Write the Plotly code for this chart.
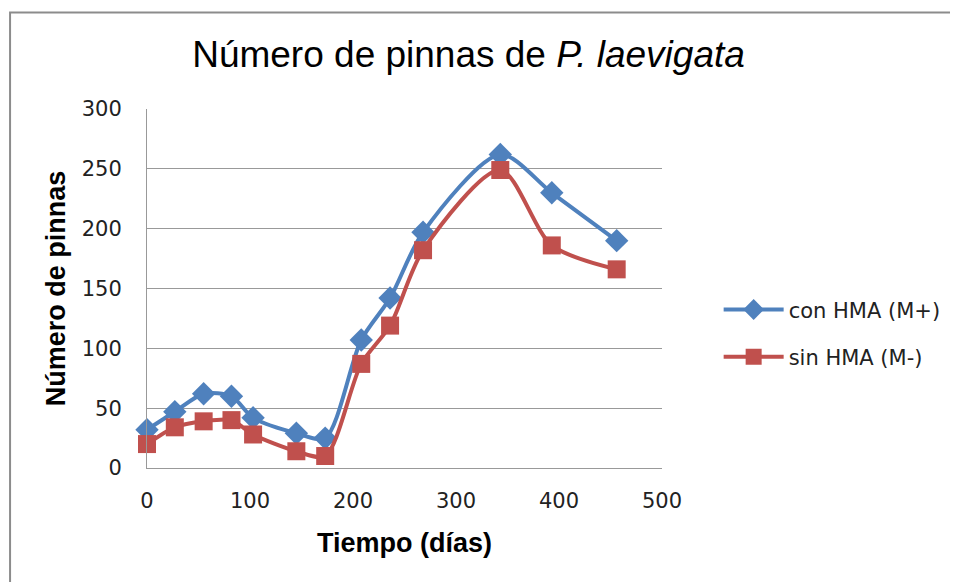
import plotly.graph_objects as go

# days since start
dias = [0, 27, 55, 82, 103, 145, 173, 208, 236, 268, 343, 393, 456]
con_hma = [32, 47, 62, 60, 42, 29, 25, 107, 142, 197, 262, 230, 190]
sin_hma = [20, 34, 39, 40, 28, 14, 10, 87, 119, 182, 249, 186, 166]

x_ticks = [0, 100, 200, 300, 400, 500]
y_ticks = [0, 50, 100, 150, 200, 250, 300]

tick_font = dict(family='DejaVu Sans', size=21, color='#222')

fig = go.Figure()

fig.add_trace(go.Scatter(
    x=dias, y=con_hma,
    name='con HMA (M+)',
    mode='lines+markers',
    line=dict(color='#4F81BD', width=4, shape='spline', smoothing=0.8),
    marker=dict(symbol='diamond', size=18, color='#4F81BD'),
    cliponaxis=False,
    legendgroup='a'
))

fig.add_trace(go.Scatter(
    x=dias, y=sin_hma,
    name='sin HMA (M-)',
    mode='lines+markers',
    line=dict(color='#C0504D', width=4, shape='spline', smoothing=0.8),
    marker=dict(symbol='square', size=18, color='#C0504D'),
    cliponaxis=False,
    legendgroup='b'
))

# page body has an 8px margin, so the figure is sized and placed to compensate
fig.update_layout(
    width=950, height=574,
    margin=dict(l=139, r=292, t=101, b=114),
    paper_bgcolor='white',
    plot_bgcolor='white',
    title=dict(
        text='Número de pinnas de <i>P. laevigata</i>',
        font=dict(family='Liberation Sans', size=37, color='black'),
        x=((192 + 745) / 2 - 8) / 950, xanchor='center',
        y=1 - (54 - 8) / 574, yanchor='middle'
    ),
    xaxis=dict(
        range=[0, 500], tickvals=x_ticks,
        showgrid=False, zeroline=False,
        showline=True, linecolor='#999', linewidth=1,
        ticks='', tickfont=tick_font, ticklabelstandoff=14,
        title=dict(text='<b>Tiempo (días)</b>', standoff=20,
                   font=dict(family='Liberation Sans', size=27, color='black'))
    ),
    yaxis=dict(
        range=[0, 300], tickvals=y_ticks,
        showgrid=True, gridcolor='#999', gridwidth=1,
        zeroline=False,
        showline=True, linecolor='#999', linewidth=1,
        ticks='', tickfont=tick_font, ticklabelstandoff=20,
        title=dict(text='<b>Número de pinnas</b>', standoff=8,
                   font=dict(family='Liberation Sans', size=27, color='black'))
    ),
    legend=dict(
        x=1.11, xanchor='left', y=0.375, yanchor='middle',
        font=dict(family='DejaVu Sans', size=21, color='#222'),
        traceorder='grouped', tracegroupgap=17,
        itemwidth=60,
        bgcolor='rgba(0,0,0,0)'
    ),
    shapes=[dict(
        type='rect', xref='paper', yref='paper',
        x0=(1 - 139) / 519, x1=1.8,
        y0=-0.6, y1=1 + (101 - 4.5) / 359,
        line=dict(color='#8c8c8c', width=2),
        layer='below'
    )]
)

fig.write_html("out.html")
